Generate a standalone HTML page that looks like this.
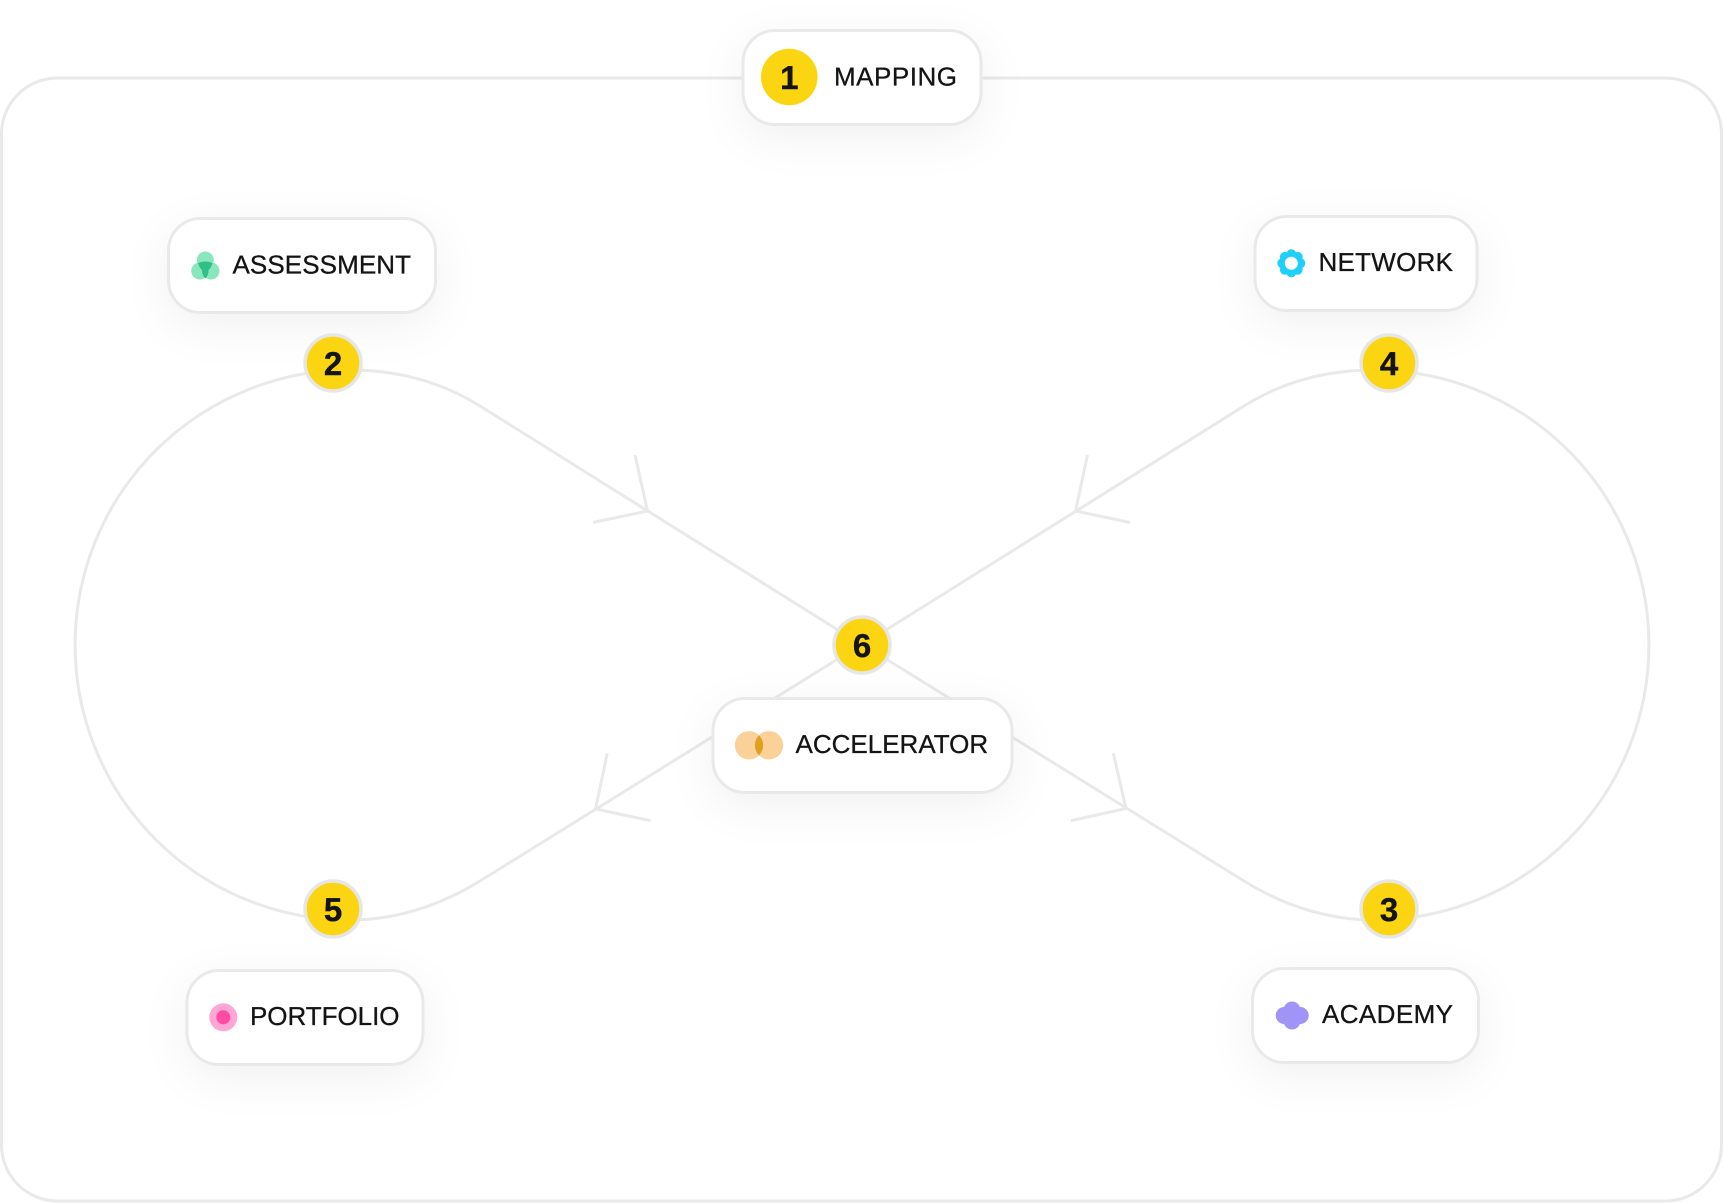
<!DOCTYPE html>
<html>
<head>
<meta charset="utf-8">
<style>
html,body{margin:0;padding:0;background:#fff;width:1723px;height:1203px;overflow:hidden}
svg{display:block}
text{font-family:"Liberation Sans",sans-serif;fill:#141414;text-rendering:geometricPrecision}
.l{font-size:26px;stroke:#141414;stroke-width:.3px}
.n{font-size:33px;font-weight:700;text-anchor:middle;stroke:#141414;stroke-width:.4px}
.c{fill:#fff;stroke:#e9e9e9;stroke-width:3;filter:drop-shadow(0 12px 22px rgba(0,0,0,.055))}
.w{fill:none;stroke:#e9e9e9;stroke-width:3}
.b{fill:#fcd512;stroke:#e6e6e6;stroke-width:3.5}
</style>
</head>
<body>
<svg width="1723" height="1203" viewBox="0 0 1723 1203" xmlns="http://www.w3.org/2000/svg">
<rect class="w" x="1.5" y="78" width="1720" height="1123" rx="56"/>
<path class="w" d="M862 645L480 406C440 381 395 370 350 370A275 275 0 0 0 350 920C395 920 440 905.800 480 881L862 644"/>
<path class="w" d="M862 645L1244 406C1284 381 1329 370 1374 370A275 275 0 0 1 1374 920C1329 920 1284 905.800 1244 881L862 644"/>
<path class="w" d="M635 455L647.500 511L593 522.500"/>
<path class="w" d="M1087.500 455L1075.500 511L1130 522.500"/>
<path class="w" d="M607.300 753.300L595.500 809L650.700 820.700"/>
<path class="w" d="M1113.300 753.300L1126 808.500L1071 820.700"/>

<rect class="c" x="743" y="30.500" width="238" height="94" rx="32"/>
<circle cx="789.300" cy="77" r="28.300" fill="#fcd512"/>
<text class="n" x="789.300" y="89">1</text>
<text class="l" x="834" y="85.500" textLength="123" lengthAdjust="spacing">MAPPING</text>

<rect class="c" x="168.500" y="218.500" width="267" height="94" rx="32"/>
<g>
<circle cx="205.300" cy="260" r="8.500" fill="#8ae6bd"/>
<circle cx="199.700" cy="271" r="8.500" fill="#8ae6bd"/>
<circle cx="211" cy="271" r="8.500" fill="#8ae6bd"/>
<path d="M198 263Q205 260 212.500 263Q211 268 208.500 270Q209 275 205.300 278.500Q202 275 202 270Q199.500 268 198 263Z" fill="#2fc088"/>
</g>
<text class="l" x="232.500" y="273.500" textLength="178.500" lengthAdjust="spacing">ASSESSMENT</text>

<rect class="c" x="1255" y="216.500" width="222" height="94" rx="32"/>
<g fill="#1fd0f8">
<circle cx="1291.300" cy="263.300" r="10"/>
<circle cx="1291.300" cy="254.300" r="5"/>
<circle cx="1291.300" cy="272.300" r="5"/>
<circle cx="1282.300" cy="263.300" r="5"/>
<circle cx="1300.300" cy="263.300" r="5"/>
<circle cx="1284.900" cy="256.900" r="5"/>
<circle cx="1297.700" cy="256.900" r="5"/>
<circle cx="1284.900" cy="269.700" r="5"/>
<circle cx="1297.700" cy="269.700" r="5"/>
</g>
<circle cx="1291.300" cy="263.300" r="6.500" fill="#fff"/>
<text class="l" x="1318.500" y="271" textLength="134.500" lengthAdjust="spacing">NETWORK</text>

<rect class="c" x="713" y="698.500" width="299" height="94" rx="32"/>
<circle cx="749" cy="745.300" r="14.200" fill="#fad199"/>
<circle cx="769" cy="745.300" r="14.200" fill="#fad199"/>
<path d="M759 735.300A14.200 14.200 0 0 1 759 755.300A14.200 14.200 0 0 1 759 735.300Z" fill="#dfa020"/>
<text class="l" x="795.500" y="753">ACCELERATOR</text>

<rect class="c" x="187" y="970.500" width="236" height="94" rx="32"/>
<circle cx="223.300" cy="1017.300" r="14" fill="#ffa6d5"/>
<circle cx="223.300" cy="1017.300" r="7" fill="#ff4ba6"/>
<text class="l" x="250" y="1025" textLength="149.500" lengthAdjust="spacing">PORTFOLIO</text>

<rect class="c" x="1252.500" y="968.500" width="226" height="94" rx="32"/>
<g fill="#a094f7">
<circle cx="1284.200" cy="1015.500" r="8.500"/>
<circle cx="1300.200" cy="1015.500" r="8.500"/>
<circle cx="1292" cy="1010" r="8.500"/>
<circle cx="1292" cy="1021" r="8.500"/>
</g>
<text class="l" x="1322" y="1023" textLength="131" lengthAdjust="spacing">ACADEMY</text>

<circle class="b" cx="333" cy="363" r="28"/>
<text class="n" x="333" y="375">2</text>
<circle class="b" cx="1389" cy="363" r="28"/>
<text class="n" x="1389" y="375">4</text>
<circle class="b" cx="862" cy="645" r="28"/>
<text class="n" x="862" y="657">6</text>
<circle class="b" cx="333" cy="909" r="28"/>
<text class="n" x="333" y="921">5</text>
<circle class="b" cx="1389" cy="909" r="28"/>
<text class="n" x="1389" y="921">3</text>
</svg>
</body>
</html>
